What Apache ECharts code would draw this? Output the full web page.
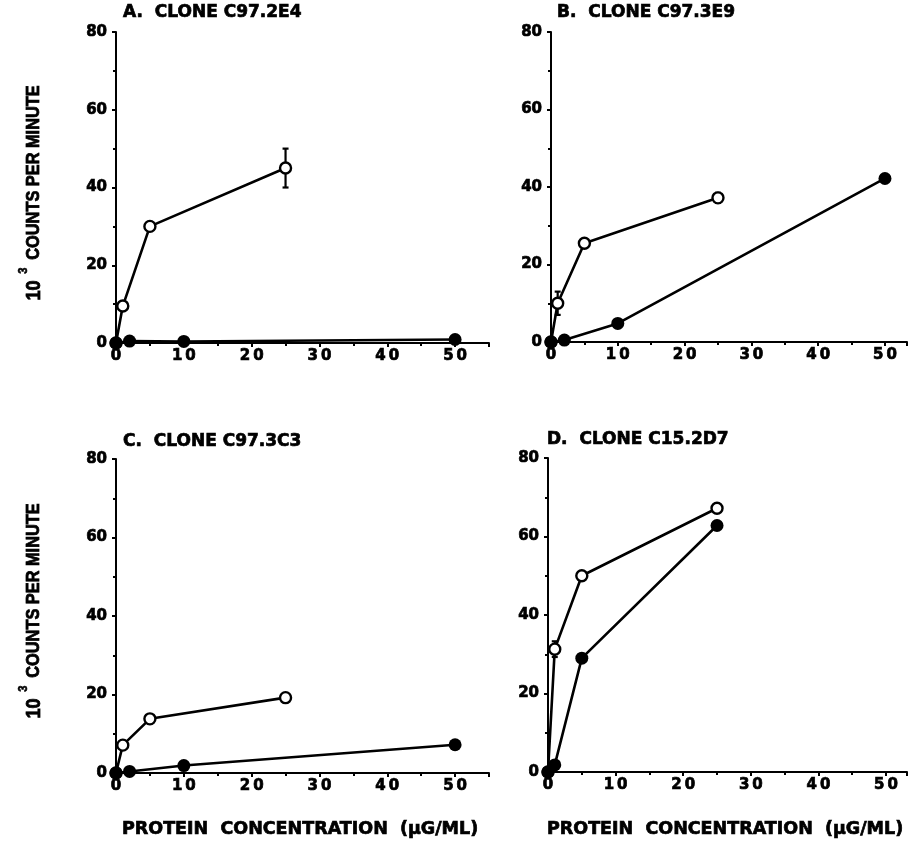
<!DOCTYPE html>
<html>
<head>
<meta charset="utf-8">
<script src="https://cdn.jsdelivr.net/npm/echarts@6/dist/echarts.min.js"></script>
<style>
  html, body { margin: 0; padding: 0; background: #fff; }
  #chart { width: 910px; height: 845px; }
</style>
</head>
<body>
<div id="chart"></div>
<script>
// ---------------- data ----------------
const panelTitles = ['A.  CLONE C97.2E4', 'B.  CLONE C97.3E9', 'C.  CLONE C97.3C3', 'D.  CLONE C15.2D7'];
const xTicks = [0, 10, 20, 30, 40, 50];
const yTicks = [0, 20, 40, 60, 80];

// open circles (x, y, error)
const openX_A = [0, 1, 5, 25];
const openY_A = [0, 9.5, 30, 45];
const openE_A = [0, 0, 0, 5];
// filled circles
const fillX_A = [0, 2, 10, 50];
const fillY_A = [0, 0.5, 0.4, 0.9];

const openX_B = [0, 1, 5, 25];
const openY_B = [0, 10, 25.5, 37.2];
const openE_B = [0, 3, 0, 1.3];
const fillX_B = [0, 2, 10, 50];
const fillY_B = [0, 0.5, 4.8, 42.2];

const openX_C = [0, 1, 5, 25];
const openY_C = [0, 7.1, 13.8, 19.2];
const openE_C = [0, 0, 0, 0];
const fillX_C = [0, 2, 10, 50];
const fillY_C = [0, 0.4, 1.9, 7.2];

const openX_D = [0, 1, 5, 25];
const openY_D = [0, 31.3, 50, 67.2];
const openE_D = [0, 2, 0, 0];
const fillX_D = [0, 1, 5, 25];
const fillY_D = [0, 1.8, 29, 62.8];

const xMaxes = [55, 53.3, 55, 53.1];

const panels = [
  { ox: openX_A, oy: openY_A, oe: openE_A, fx: fillX_A, fy: fillY_A },
  { ox: openX_B, oy: openY_B, oe: openE_B, fx: fillX_B, fy: fillY_B },
  { ox: openX_C, oy: openY_C, oe: openE_C, fx: fillX_C, fy: fillY_C },
  { ox: openX_D, oy: openY_D, oe: openE_D, fx: fillX_D, fy: fillY_D }
];

// ---------------- layout ----------------
const gridBoxes = [
  { left: 116, top: 32, width: 373, height: 311 },
  { left: 551, top: 32, width: 359, height: 310 },
  { left: 116, top: 459, width: 373, height: 314 },
  { left: 548, top: 458, width: 360, height: 314 }
];

const FONT = '"DejaVu Sans", "Liberation Sans", sans-serif';
const LIB = '"Liberation Sans", Arial, sans-serif';

const grids = [], xAxes = [], yAxes = [], series = [];
gridBoxes.forEach((g, i) => {
  grids.push(Object.assign({ containLabel: false }, g));
  xAxes.push({
    type: 'value', gridIndex: i, min: 0, max: xMaxes[i], interval: 10,
    axisLine: { show: true, onZero: false, lineStyle: { color: '#000', width: 2 } },
    axisTick: { show: true, length: 4, lineStyle: { color: '#000', width: 2 } },
    minorTick: { show: true, splitNumber: 2, length: 3, lineStyle: { color: '#000', width: 2 } },
    splitLine: { show: false },
    axisLabel: {
      margin: 6, color: '#000', fontFamily: FONT, fontWeight: 'bold', fontSize: 15,
      textBorderColor: '#000', textBorderWidth: 0.7,
      formatter: v => xTicks.indexOf(v) >= 0 ? String(v).split('').join('\u2009') : ''
    }
  });
  yAxes.push({
    type: 'value', gridIndex: i, min: 0, max: 80, interval: 20,
    axisLine: { show: true, lineStyle: { color: '#000', width: 2 } },
    axisTick: { show: true, length: 4, lineStyle: { color: '#000', width: 2 } },
    minorTick: { show: true, splitNumber: 2, length: 3, lineStyle: { color: '#000', width: 2 } },
    splitLine: { show: false },
    axisLabel: {
      margin: 9, color: '#000', fontFamily: FONT, fontWeight: 'bold', fontSize: 15,
      textBorderColor: '#000', textBorderWidth: 0.7,
      formatter: v => yTicks.indexOf(v) >= 0 ? String(v) : ''
    }
  });

  const p = panels[i];
  const errData = [];
  p.ox.forEach((x, k) => { if (p.oe[k] > 0) errData.push([x, p.oy[k], p.oe[k]]); });
  series.push({
    type: 'custom', xAxisIndex: i, yAxisIndex: i, z: 1, silent: true,
    data: errData,
    renderItem: (params, api) => {
      const x = api.value(0), y = api.value(1), e = api.value(2);
      const top = api.coord([x, y + e]);
      const bot = api.coord([x, y - e]);
      const cw = 3;
      const st = { stroke: '#000', lineWidth: 2.2 };
      return {
        type: 'group', children: [
          { type: 'line', shape: { x1: top[0], y1: top[1], x2: bot[0], y2: bot[1] }, style: st },
          { type: 'line', shape: { x1: top[0] - cw, y1: top[1], x2: top[0] + cw, y2: top[1] }, style: st },
          { type: 'line', shape: { x1: bot[0] - cw, y1: bot[1], x2: bot[0] + cw, y2: bot[1] }, style: st }
        ]
      };
    }
  });
  series.push({
    type: 'line', xAxisIndex: i, yAxisIndex: i, z: 2,
    data: p.ox.map((x, k) => [x, p.oy[k]]),
    symbol: 'circle', symbolSize: 11, showAllSymbol: true,
    lineStyle: { color: '#000', width: 2.6 },
    itemStyle: { color: '#fff', borderColor: '#000', borderWidth: 2.4 },
    animation: false
  });
  series.push({
    type: 'line', xAxisIndex: i, yAxisIndex: i, z: 3,
    data: p.fx.map((x, k) => [x, p.fy[k]]),
    symbol: 'circle', symbolSize: 13, showAllSymbol: true,
    lineStyle: { color: '#000', width: 2.6 },
    itemStyle: { color: '#000', borderColor: '#000', borderWidth: 0 },
    animation: false
  });
});

// titles & axis names
const graphic = [];
const titlePos = [[123, 4], [557, 4], [123, 433], [547, 431]];
panelTitles.forEach((t, i) => {
  graphic.push({
    type: 'text', x: titlePos[i][0], y: titlePos[i][1],
    style: { text: t, fill: '#000', stroke: '#000', lineWidth: 0.7, font: 'bold 17px ' + FONT }
  });
});
const yTitleCenters = [[34, 193], [34, 611]];
yTitleCenters.forEach(c => {
  graphic.push({
    type: 'text', x: c[0], y: c[1], rotation: Math.PI / 2, scaleX: 0.86,
    style: {
      text: '{t|10}{s|3}{n|COUNTS PER MINUTE}',
      align: 'center', verticalAlign: 'middle',
      rich: {
        t: { fontFamily: LIB, fontWeight: 'bold', fontSize: 21, fill: '#000', stroke: '#000', lineWidth: 0.8 },
        n: { fontFamily: LIB, fontWeight: 'bold', fontSize: 19, fill: '#000', stroke: '#000', lineWidth: 0.8 },
        s: { fontFamily: LIB, fontWeight: 'bold', fontSize: 13, fill: '#000', stroke: '#000', lineWidth: 0.6, padding: [0, 9, 22, 8] }
      }
    }
  });
});
[[122, 820], [547, 820]].forEach(pos => {
  graphic.push({
    type: 'text', x: pos[0], y: pos[1],
    style: { text: 'PROTEIN  CONCENTRATION  (\u00b5G/ML)', fill: '#000', stroke: '#000', lineWidth: 0.7, font: 'bold 17.5px ' + FONT }
  });
});

const chart = echarts.init(document.getElementById('chart'), null, { renderer: 'canvas' });
chart.setOption({
  animation: false,
  backgroundColor: '#fff',
  grid: grids, xAxis: xAxes, yAxis: yAxes, series: series, graphic: graphic
});
</script>
</body>
</html>
